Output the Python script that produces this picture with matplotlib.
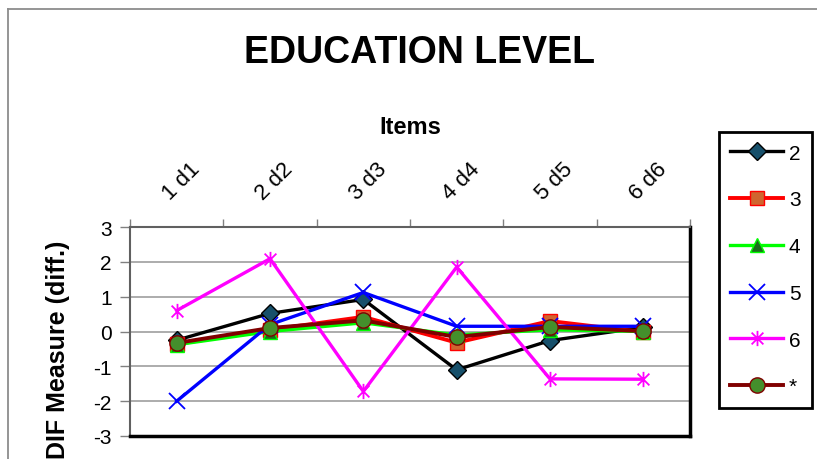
import numpy as np
import matplotlib
matplotlib.use("Agg")
import matplotlib.pyplot as plt
from matplotlib.path import Path
from matplotlib.lines import Line2D

plt.rcParams['font.family'] = ['Liberation Sans', 'DejaVu Sans']
plt.rcParams['axes.unicode_minus'] = False

#---------------------------------- data -------------------------------------#
items = ["1 d1", "2 d2", "3 d3", "4 d4", "5 d5", "6 d6"]
series_names = ["2", "3", "4", "5", "6", "*"]
edu2 = [-0.25, 0.52, 0.92, -1.10, -0.26, 0.12]
edu3 = [-0.36, 0.05, 0.42, -0.32, 0.30, -0.02]
edu4 = [-0.38, 0.00, 0.25, -0.10, 0.05, 0.00]
edu5 = [-2.00, 0.20, 1.12, 0.15, 0.15, 0.15]
edu6 = [0.60, 2.09, -1.72, 1.85, -1.36, -1.37]
edu_all = [-0.33, 0.10, 0.32, -0.16, 0.13, 0.01]

#------------------------------ marker shapes --------------------------------#
# excel style star: an x with a vertical bar through it
star_path = Path([(-1, -1), (1, 1), (-1, 1), (1, -1), (0, -1.3), (0, 1.3)],
                 [Path.MOVETO, Path.LINETO, Path.MOVETO, Path.LINETO,
                  Path.MOVETO, Path.LINETO])

styles = [
    dict(color="black", lw=2.4, marker="D", ms=9, mfc="#17506B", mec="black", mew=1),
    dict(color="#FF0000", lw=2.8, marker="s", ms=10, mfc="#D0652F", mec="#FF0000", mew=1),
    dict(color="#00FF00", lw=2.4, marker="^", ms=10, mfc="#1B6B1B", mec="#00FF00", mew=1),
    dict(color="#0000FF", lw=2.4, marker="x", ms=11, mec="#0000FF", mew=1.3),
    dict(color="#FF00FF", lw=2.4, marker=star_path, ms=11, mfc="none", mec="#FF00FF", mew=1.3),
    dict(color="#800000", lw=2.8, marker="o", ms=11, mfc="#448F2C", mec="#800000", mew=1),
]

#---------------------------------- plot -------------------------------------#
fig = plt.figure(figsize=(8.17, 4.6), dpi=100)
ax = fig.add_axes([130 / 817, 1 - 437 / 460, 560 / 817, 209 / 460])

x = np.arange(1, len(items) + 1)
all_series = [edu2, edu3, edu4, edu5, edu6, edu_all]
lines = []
for vals, name, st in zip(all_series, series_names, styles):
    ln, = ax.plot(x, vals, label=name, zorder=3, **st)
    lines.append(ln)

ax.set_xlim(0.5, len(items) + 0.5)
ax.set_ylim(-3, 3)

# horizontal grid
ax.set_yticks(np.arange(-3, 4, 1))
ax.yaxis.grid(True, color="#A6A6A6", lw=1.3)
ax.set_axisbelow(True)
ax.tick_params(axis="y", direction="out", length=7, width=1, color="#808080",
               labelsize=15, pad=6)

# category axis sits on top, ticks on the category boundaries
ax.xaxis.set_ticks_position("top")
ax.set_xticks(np.arange(0.5, len(items) + 1, 1))
ax.set_xticklabels([])
ax.tick_params(axis="x", direction="out", length=6, width=1, color="#808080")
for xi, lab in zip(x, items):
    ax.text(xi + 0.05, 1.22, lab, transform=ax.get_xaxis_transform(),
            rotation=45, ha="center", va="center", rotation_mode="anchor",
            fontsize=16)

# frame
ax.spines["left"].set_color("#606060")
ax.spines["left"].set_linewidth(1.5)
ax.spines["top"].set_color("#606060")
ax.spines["top"].set_linewidth(1.5)
ax.spines["right"].set_color("black")
ax.spines["right"].set_linewidth(2.5)
ax.spines["bottom"].set_color("black")
ax.spines["bottom"].set_linewidth(2.5)

# titles
fig.text(420 / 817, 1 - 53 / 460, "EDUCATION LEVEL", ha="center", va="center",
         fontsize=27, fontweight="bold")
fig.text(410 / 817, 1 - 127 / 460, "Items", ha="center", va="center",
         fontsize=17, fontweight="bold")
fig.text(58 / 817, 1 - 350 / 460, "DIF Measure (diff.)", ha="center", va="center",
         rotation=90, fontsize=18, fontweight="bold")

# legend
leg = fig.legend(handles=lines, loc="center left",
                 bbox_to_anchor=(719 / 817, 1 - 271 / 460),
                 fontsize=15, frameon=True, fancybox=False, framealpha=1,
                 edgecolor="black", handlelength=2.5, handletextpad=0.3,
                 labelspacing=1.33, borderpad=0.55, borderaxespad=0)
leg.get_frame().set_linewidth(2)

# outer chart border (top and left)
fig.add_artist(Line2D([8 / 817, 1.0], [1 - 10 / 460, 1 - 10 / 460],
                      transform=fig.transFigure, color="#8C8C8C", lw=1.3))
fig.add_artist(Line2D([8 / 817, 8 / 817], [0.0, 1 - 10 / 460],
                      transform=fig.transFigure, color="#8C8C8C", lw=1.3))

fig.savefig("out.png", dpi=100)
